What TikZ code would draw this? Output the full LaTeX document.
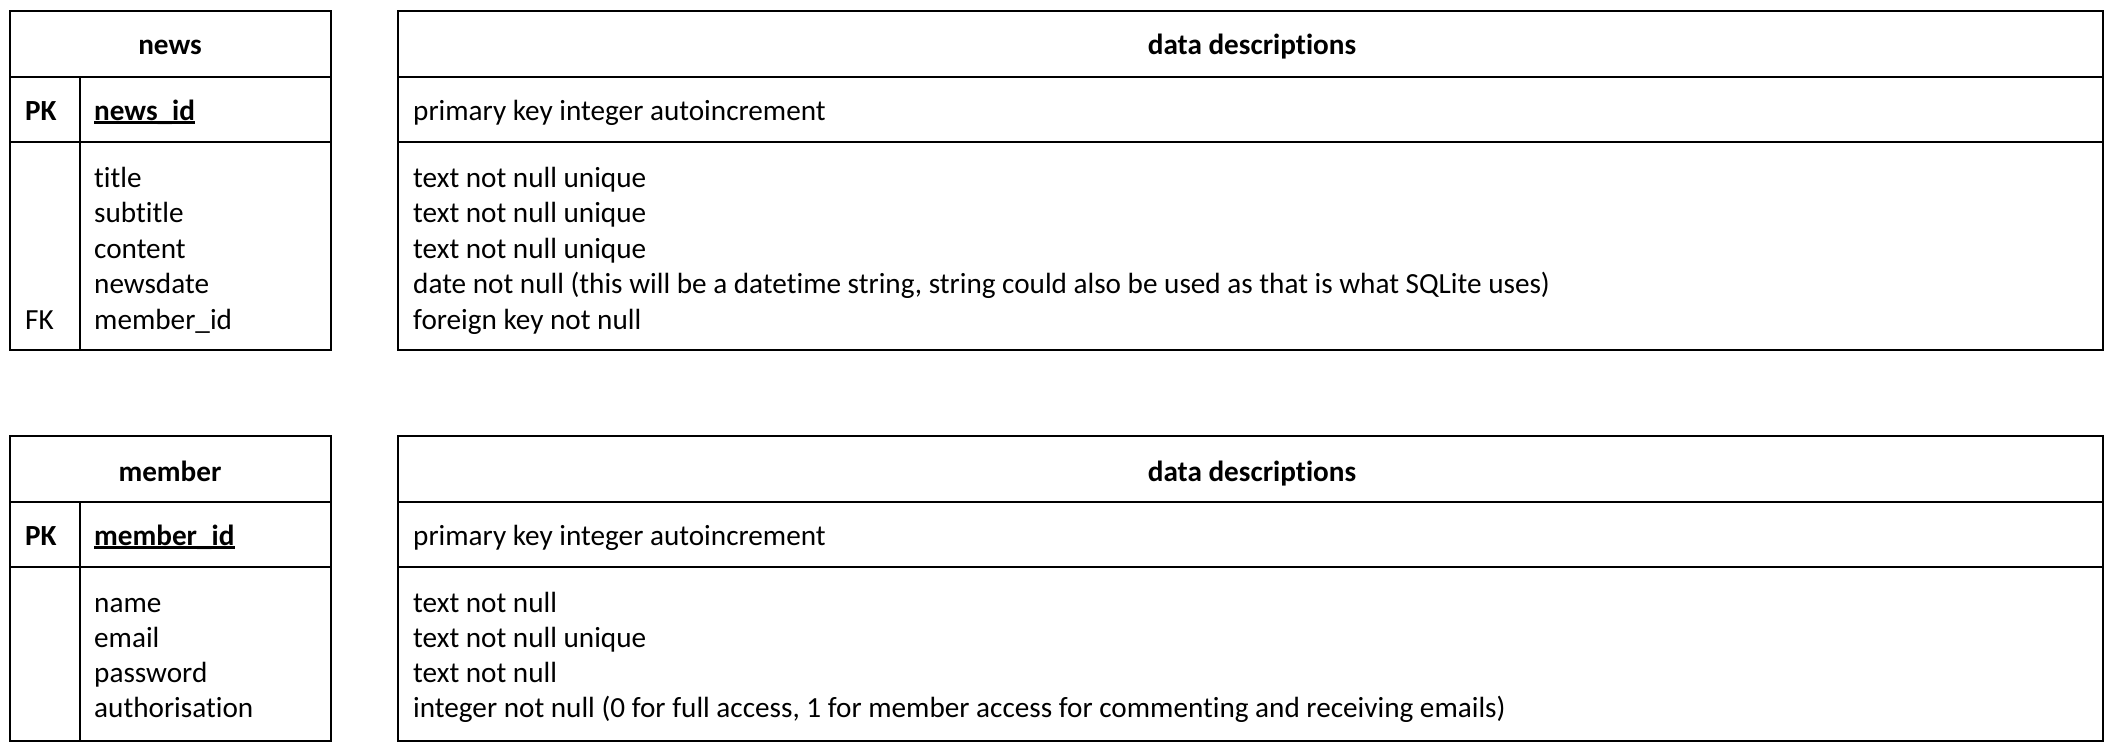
\documentclass[tikz,border=0pt]{standalone}
\usepackage{fontspec}
\setmainfont{Carlito}[Ligatures={NoCommon,NoContextual}]
\usepackage{tikz}

% underlined key name, heavier rule than \underline
\newcommand{\keyname}[1]{\setbox0\hbox{#1}\rlap{\rule[-3.5pt]{\wd0}{2.2pt}}\box0}

\begin{document}
\begin{tikzpicture}[
		x=1pt, y=-1pt,
		font=\fontsize{29.2}{35}\selectfont,
		frame/.style={draw=black, line width=2.6pt},
		hdr/.style={anchor=base, inner sep=0pt, font=\fontsize{29.2}{35}\selectfont\bfseries},
		keycol/.style={anchor=base west, inner sep=0pt},
		fieldcol/.style={anchor=base west, inner sep=0pt},
		desccol/.style={anchor=base west, inner sep=0pt}
		]
		\useasboundingbox (0,0) rectangle (2116,752);
		
		% table frames: top, header line, key line, bottom
		\foreach \top/\hl/\kl/\bot in {11/77/142/350, 436/502/567/741} {
			\draw[frame] (10,\top) rectangle (331,\bot);
			\draw[frame] (10,\hl) -- (331,\hl);
			\draw[frame] (10,\kl) -- (331,\kl);
			\draw[frame] (80,\hl) -- (80,\bot);
			\draw[frame] (398,\top) rectangle (2103,\bot);
			\draw[frame] (398,\hl) -- (2103,\hl);
			\draw[frame] (398,\kl) -- (2103,\kl);
		}
		
		% news
		\node[hdr] (newshd) at (170,55) {news};
		\node[hdr] (newsdeschd) at (1252,55) {data descriptions};
		\node[keycol] (newspk) at (25,120) {\bfseries PK};
		\node[fieldcol] (newsid) at (94,120) {\bfseries\keyname{news\_id}};
		\node[desccol] (newsiddesc) at (413,120) {primary key integer autoincrement};
		\foreach \i/\f/\d in {0/title/text not null unique,
			1/subtitle/text not null unique,
			2/content/text not null unique,
			3/newsdate/{date not null (this will be a datetime string, string could also be used as that is what SQLite uses)},
			4/member\_id/foreign key not null} {
			\node[fieldcol] (newsf\i) at (94,187+35.5*\i) {\f};
			\node[desccol] (newsd\i) at (413,187+35.5*\i) {\d};
		}
		\node[keycol] (newsfk) at (25,329) {FK};
		
		% member
		\node[hdr] (memberhd) at (170,481) {member};
		\node[hdr] (memberdeschd) at (1252,481) {data descriptions};
		\node[keycol] (memberpk) at (25,545) {\bfseries PK};
		\node[fieldcol] (memberid) at (94,545) {\bfseries\keyname{member\_id}};
		\node[desccol] (memberiddesc) at (413,545) {primary key integer autoincrement};
		\foreach \i/\f/\d in {0/name/text not null,
			1/email/text not null unique,
			2/password/text not null,
			3/authorisation/{integer not null (0 for full access, 1 for member access for commenting and receiving emails)}} {
			\node[fieldcol] (memberf\i) at (94,612+35*\i) {\f};
			\node[desccol] (memberd\i) at (413,612+35*\i) {\d};
		}
\end{tikzpicture}
\end{document}
